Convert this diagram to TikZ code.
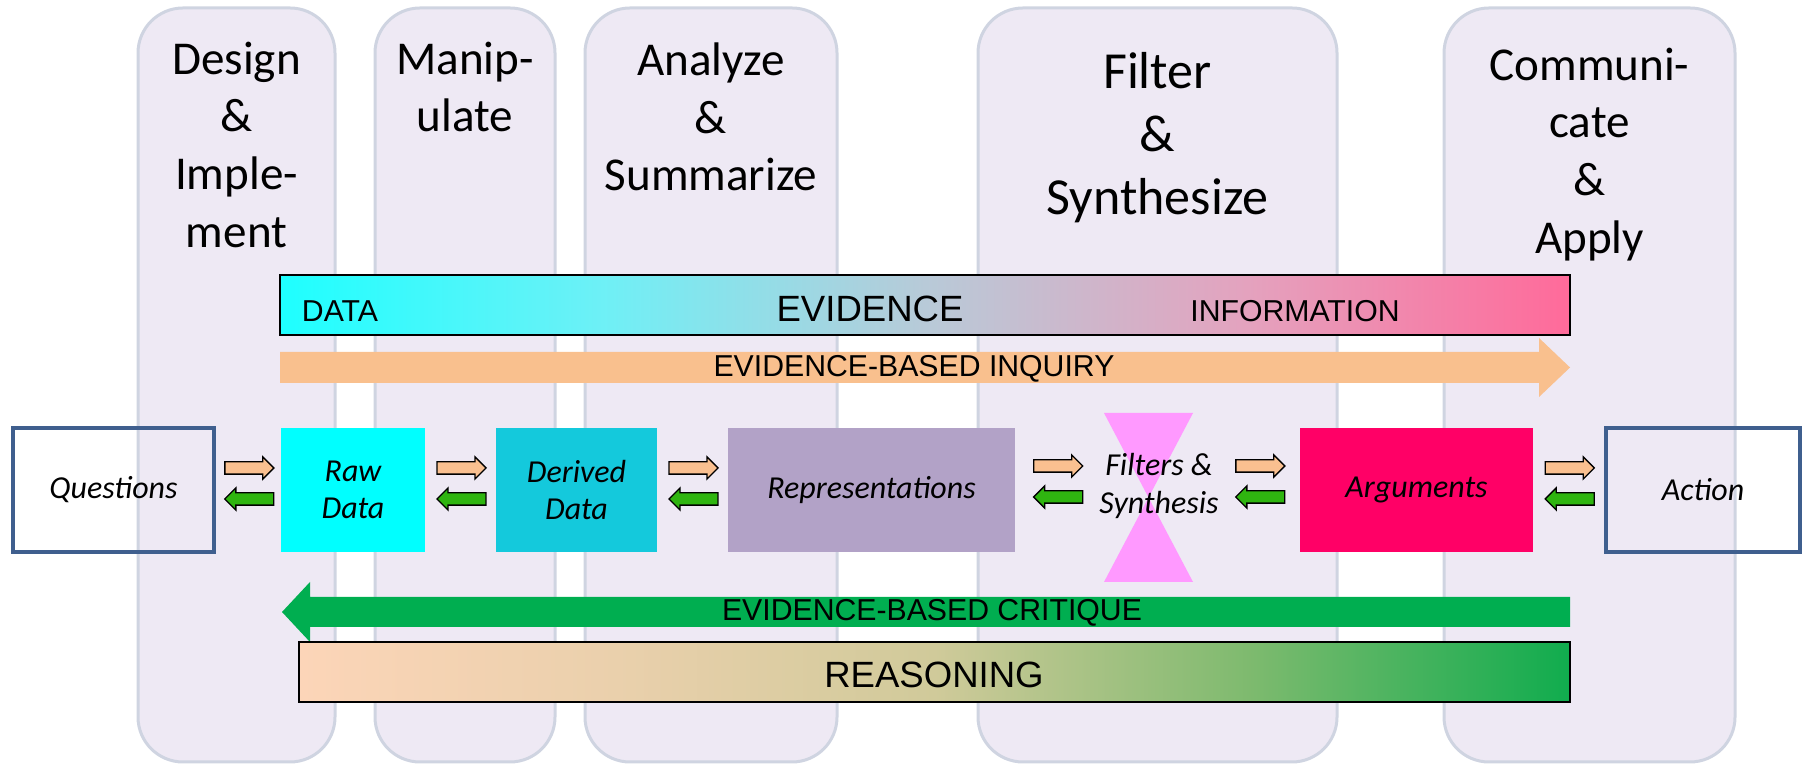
\documentclass[tikz,border=0pt]{standalone}
\usepackage{fontspec}
\setmainfont{Carlito}
\newfontfamily\barfont{Liberation Sans}
\usetikzlibrary{shapes.arrows,calc}
\definecolor{lanefill}{HTML}{EEE9F4}
\definecolor{laneedge}{HTML}{CFD4E1}
\definecolor{endedge}{HTML}{3F5F8E}
\definecolor{rawfill}{HTML}{00FFFF}
\definecolor{derivedfill}{HTML}{14C9DC}
\definecolor{repfill}{HTML}{B2A2C7}
\definecolor{argfill}{HTML}{FF0066}
\definecolor{hourfill}{HTML}{FF99FF}
\definecolor{inquiryfill}{HTML}{F9C08E}
\definecolor{critiquefill}{HTML}{00AE50}
\definecolor{fwdfill}{HTML}{FAC090}
\definecolor{backfill}{HTML}{2FB510}
% shadings for the two bars
\pgfdeclarehorizontalshading{evidenceshade}{100bp}{
  color(0bp)=(rgb,255:red,30;green,255;blue,255);
  color(25bp)=(rgb,255:red,30;green,255;blue,255);
  color(37.5bp)=(rgb,255:red,110;green,240;blue,246);
  color(50bp)=(rgb,255:red,184;green,202;blue,216);
  color(62.5bp)=(rgb,255:red,228;green,162;blue,190);
  color(75bp)=(rgb,255:red,255;green,106;blue,154);
  color(100bp)=(rgb,255:red,255;green,106;blue,154)}
\pgfdeclarehorizontalshading{reasonshade}{100bp}{
  color(0bp)=(rgb,255:red,252;green,213;blue,184);
  color(25bp)=(rgb,255:red,252;green,213;blue,184);
  color(37.5bp)=(rgb,255:red,234;green,208;blue,172);
  color(50bp)=(rgb,255:red,208;green,202;blue,154);
  color(62.5bp)=(rgb,255:red,125;green,186;blue,110);
  color(75bp)=(rgb,255:red,16;green,172;blue,78);
  color(100bp)=(rgb,255:red,16;green,172;blue,78)}
\newlength{\BoxHeight}
\newlength{\LaneRadius}
\setlength{\BoxHeight}{12.4mm}
\setlength{\LaneRadius}{4.5mm}
\tikzset{
  lane/.style={draw=laneedge, fill=lanefill, line width=0.3mm, rounded corners=\LaneRadius},
  lane title/.style={anchor=north, align=center, inner sep=0pt, font=\fontsize{13.4}{16.4}\selectfont},
  stage box/.style={minimum height=\BoxHeight, inner sep=0pt, align=center, font=\fontsize{9.1}{10.6}\selectfont\itshape},
  end box/.style={stage box, draw=endedge, line width=0.45mm},
  fwd arrow/.style={single arrow, draw=black, fill=fwdfill, line width=0.13mm, minimum height=4.9mm, minimum width=2.1mm, single arrow head extend=0.5mm, inner xsep=0pt, inner ysep=0.55mm},
  back arrow/.style={fwd arrow, fill=backfill, shape border rotate=180},
  bar/.style={draw=black, line width=0.2mm},
  bar text/.style={inner sep=0pt, font=\barfont\fontsize{8.6}{10}\selectfont},
  bar title/.style={inner sep=0pt, font=\barfont\fontsize{10.4}{12}\selectfont}
}

\begin{document}
\begin{tikzpicture}[x=0.1mm, y=0.1mm]
  \useasboundingbox (0,0) rectangle (1806,765);

  % stage lanes
  \foreach \l/\r in {138/335, 375/555, 585/837, 978/1337, 1444/1735} {
    \draw[lane] (\l,3) rectangle (\r,757);
  }
  \node[lane title] (tdesign) at (236.5,724) {Design\\\&\\Imple-\\ment};
  \node[lane title] (tmanip)  at (465,724) {Manip-\\ulate};
  \node[lane title] (tanalyze) at (711,723) {Analyze\\\&\\Summarize};
  \node[lane title, font=\fontsize{14.8}{17.9}\selectfont] (tfilter) at (1157.5,713) {Filter\\\&\\Synthesize};
  \node[lane title] (tcomm) at (1589.5,718) {Communi-\\cate\\\&\\Apply};

  % evidence bar and inquiry arrow
  \draw[bar, shading=evidenceshade] (280,430) rectangle (1570,490);
  \node[bar text]  (data) at (340,454) {DATA};
  \node[bar title] (evid) at (870,456.5) {EVIDENCE};
  \node[bar text]  (info) at (1295,454) {INFORMATION};

  \fill[inquiryfill] (280,382) -- (1539,382) -- (1539,368) -- (1570,397.5)
    -- (1539,427) -- (1539,413) -- (280,413) -- cycle;
  \node[bar text] (inquiry) at (914,396) {EVIDENCE-BASED INQUIRY};

  % critique arrow and reasoning bar
  \fill[critiquefill] (1570,138) -- (310,138) -- (310,123) -- (282,153)
    -- (310,183) -- (310,168) -- (1570,168) -- cycle;
  \node[bar text] (critique) at (932,152) {EVIDENCE-BASED CRITIQUE};

  \draw[bar, shading=reasonshade] (299,63) rectangle (1570,123);
  \node[bar title] (reason) at (934,90) {REASONING};

  % filter hourglass
  \fill[hourfill] (1104,352) -- (1193,352) -- (1104,183) -- (1193,183) -- cycle;

  % stages
  \node[end box, minimum width=20.1mm] (qbox) at (113.5,275) {Questions};
  \node[stage box, fill=rawfill, minimum width=14.4mm] (raw) at (353,275) {Raw\\Data};
  \node[stage box, fill=derivedfill, minimum width=16.1mm] (derived) at (576.5,275) {Derived\\Data};
  \node[stage box, fill=repfill, minimum width=28.7mm] (rep) at (871.5,275) {Representations};
  \node[stage box, minimum width=10.9mm] (filt) at (1159,279) {Filters \&\\Synthesis};
  \node[stage box, fill=argfill, minimum width=23.3mm] (arg) at (1416.5,275) {Arguments};
  \node[end box, minimum width=19.4mm] (act) at (1703,275) {Action};

  \foreach \a/\b in {qbox/raw, raw/derived, derived/rep, rep/filt, filt/arg, arg/act} {
    \node[fwd arrow]  (fwd-\a)  at ($(\a.east)!0.5!(\b.west)+(-2,22)$) {};
    \node[back arrow] (back-\a) at ($(\a.east)!0.5!(\b.west)+(4,-9)$) {};
  }
\end{tikzpicture}
\end{document}
